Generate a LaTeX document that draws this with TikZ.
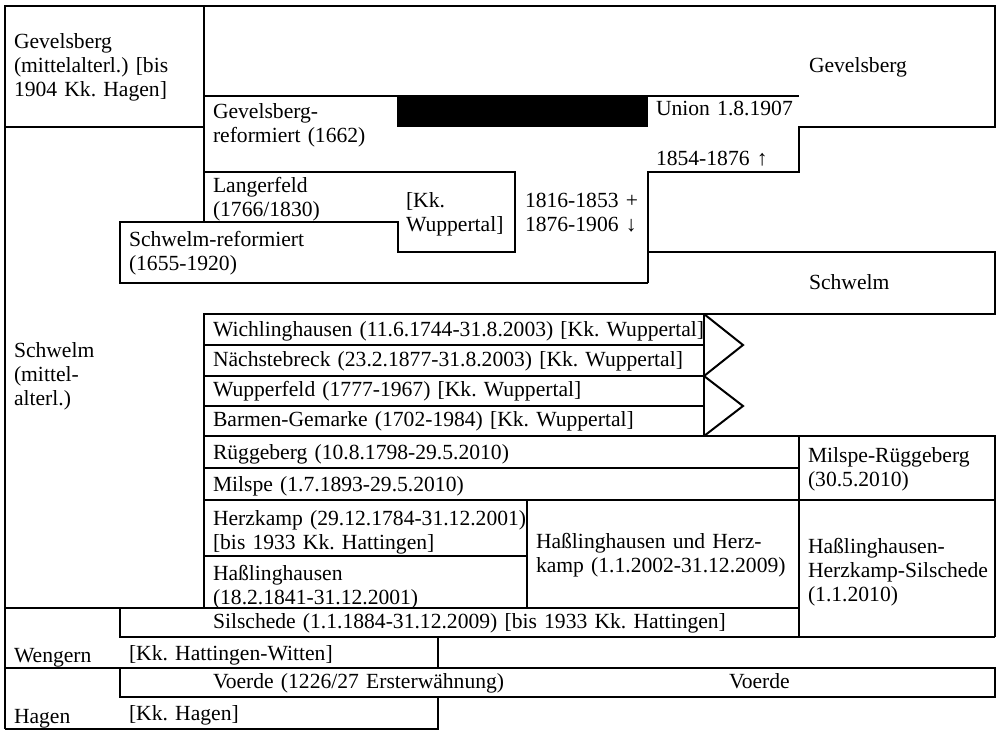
\documentclass[tikz,border=0pt]{standalone}
\usepackage{fontspec}
\setmainfont{Liberation Serif}
\frenchspacing
\begin{document}
\begin{tikzpicture}[x=0.5pt, y=-0.5pt, line width=1pt,
    txt/.style={anchor=base west, inner sep=0pt, text width=300pt, align=left,
      font=\fontsize{10.8}{12}\selectfont}]
  \useasboundingbox (0,0) rectangle (1000,730);

  \pgfmathsetmacro{\xl}{5}
  \pgfmathsetmacro{\xr}{995}
  \pgfmathsetmacro{\xm}{204}
  \pgfmathsetmacro{\xn}{799}

  % Gevelsberg
  \draw (\xl,729) -- (\xl,6) -- (\xr,6) -- (\xr,127) -- (\xn,127) -- (\xn,172)
        -- (648,172) -- (648,283);
  \draw (\xl,127) -- (\xm,127);
  \draw (\xm,6) -- (\xm,222);
  \draw (\xm,96) -- (\xn,96);
  \fill (397,96) rectangle (648,127);

  % Langerfeld and Schwelm-reformiert
  \draw (\xm,172) -- (515,172) -- (515,252) -- (398,252) -- (398,222) -- (120,222)
        -- (120,283) -- (648,283);

  % Schwelm
  \draw (648,252) -- (\xr,252) -- (\xr,314) -- (\xm,314) -- (\xm,608);

  % Wuppertal rows
  \draw (704,314) -- (704,436);
  \draw (\xm,345) -- (704,345);
  \draw (\xm,376) -- (704,376);
  \draw (\xm,406) -- (704,406);
  \draw (704,314) -- (743,345) -- (704,376) -- (743,406) -- (704,436);

  % Milspe, Herzkamp, Hasslinghausen
  \draw (\xm,436) -- (\xr,436) -- (\xr,637);
  \draw (\xm,468) -- (\xn,468);
  \draw (\xm,500) -- (\xr,500);
  \draw (\xn,436) -- (\xn,637);
  \draw (527,500) -- (527,608);
  \draw (\xm,556) -- (527,556);
  \draw (\xl,608) -- (\xn,608);

  % Silschede, Wengern, Voerde, Hagen
  \draw (120,608) -- (120,637) -- (\xr,637);
  \draw (438,637) -- (438,668);
  \draw (\xl,668) -- (\xr,668) -- (\xr,697) -- (120,697) -- (120,668);
  \draw (438,697) -- (438,729) -- (\xl,729);

  \node[txt] (gevold) at (13,48) {Gevelsberg\\(mittelalterl.) [bis\\1904 Kk. Hagen]};
  \node[txt] (gevnew) at (808,72) {Gevelsberg};
  \node[txt] (gevref) at (212,118) {Gevelsberg-\\reformiert (1662)};
  \node[txt] (union) at (655,115) {Union 1.8.1907};
  \node[txt] (upward) at (655,165) {1854-1876 ↑};
  \node[txt] (langer) at (212,192) {Langerfeld\\(1766/1830)};
  \node[txt] (langkk) at (405,207) {[Kk.\\Wuppertal]};
  \node[txt] (downward) at (524,207) {1816-1853 +\\1876-1906 ↓};
  \node[txt] (schwref) at (128,246) {Schwelm-reformiert\\(1655-1920)};
  \node[txt] (schwnew) at (808,289) {Schwelm};
  \node[txt] (schwold) at (13,357) {Schwelm\\(mittel-\\alterl.)};

  \node[txt] (wichl) at (212,336) {Wichlinghausen (11.6.1744-31.8.2003) [Kk. Wuppertal]};
  \node[txt] (naechst) at (212,366) {Nächstebreck (23.2.1877-31.8.2003) [Kk. Wuppertal]};
  \node[txt] (wupperf) at (212,396) {Wupperfeld (1777-1967) [Kk. Wuppertal]};
  \node[txt] (barmen) at (212,426) {Barmen-Gemarke (1702-1984) [Kk. Wuppertal]};
  \node[txt] (ruegg) at (212,459) {Rüggeberg (10.8.1798-29.5.2010)};
  \node[txt] (milspe) at (212,491) {Milspe (1.7.1893-29.5.2010)};
  \node[txt] (milrueg) at (807,462) {Milspe-Rüggeberg\\(30.5.2010)};
  \node[txt] (herzk) at (212,525) {Herzkamp (29.12.1784-31.12.2001)\\{}[bis 1933 Kk. Hattingen]};
  \node[txt] (hassl) at (212,580) {Haßlinghausen\\(18.2.1841-31.12.2001)};
  \node[txt] (hassherz) at (535,548) {Haßlinghausen und Herz-\\kamp (1.1.2002-31.12.2009)};
  \node[txt] (hhs) at (807,553) {Haßlinghausen-\\Herzkamp-Silschede\\(1.1.2010)};
  \node[txt] (silsch) at (212,628) {Silschede (1.1.1884-31.12.2009) [bis 1933 Kk. Hattingen]};
  \node[txt] (wengern) at (13,662) {Wengern};
  \node[txt] (wengkk) at (128,660) {[Kk. Hattingen-Witten]};
  \node[txt] (voerdeold) at (212,688) {Voerde (1226/27 Ersterwähnung)};
  \node[txt] (voerde) at (728,688) {Voerde};
  \node[txt] (hagen) at (13,723) {Hagen};
  \node[txt] (hagenkk) at (128,720) {[Kk. Hagen]};
\end{tikzpicture}
\end{document}
